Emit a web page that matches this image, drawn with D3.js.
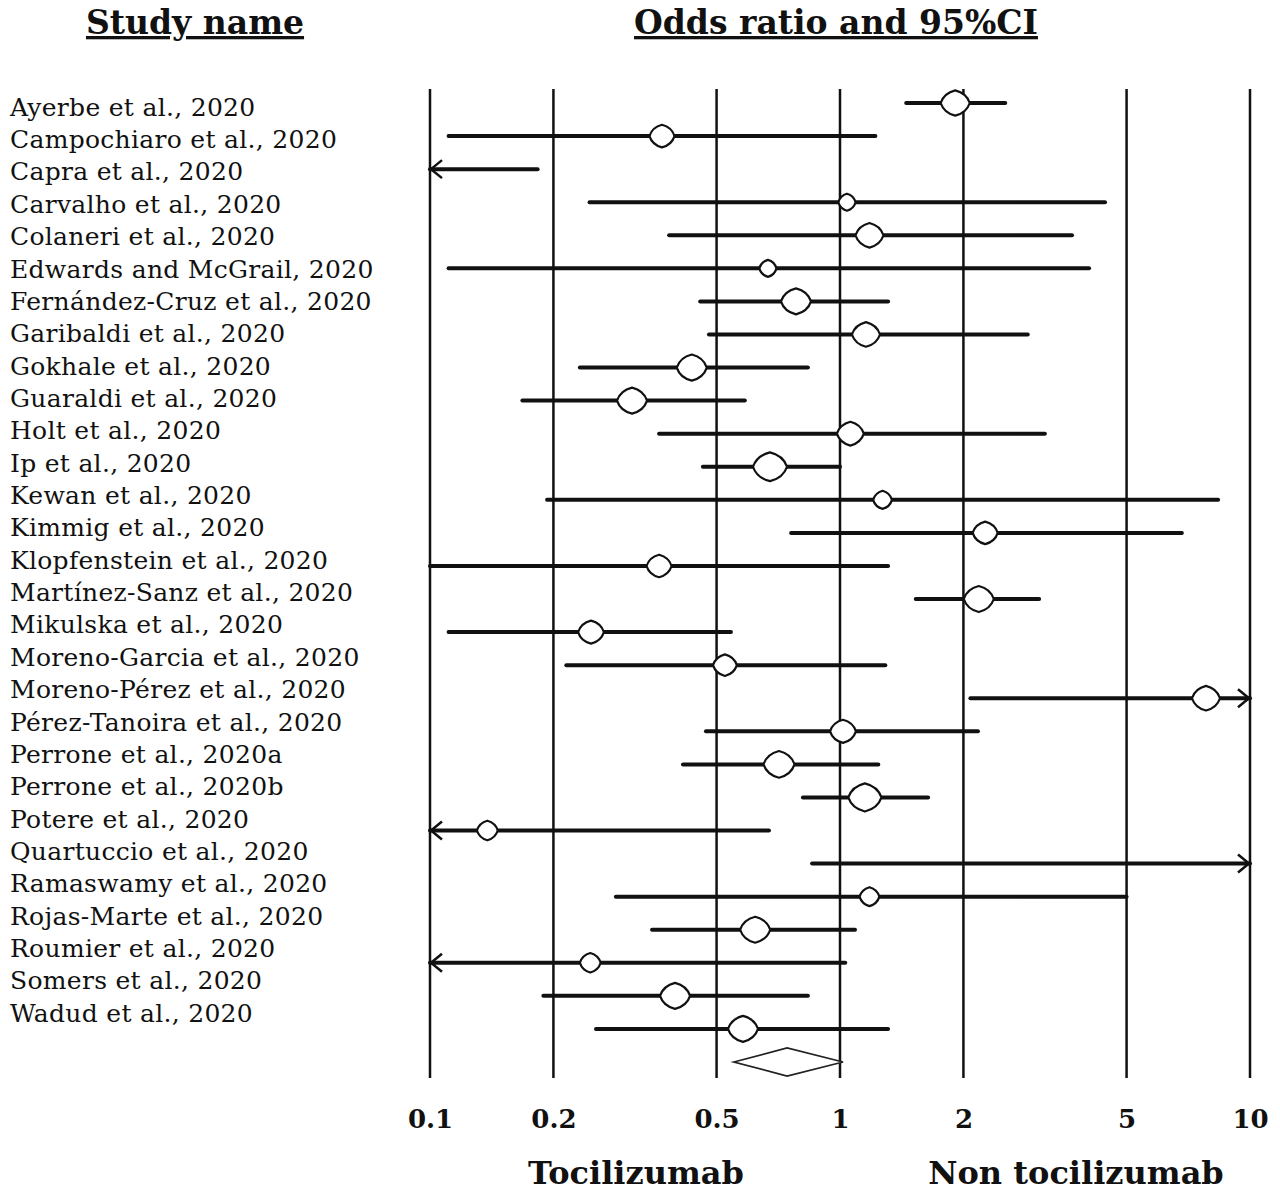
<!DOCTYPE html>
<html>
<head>
<meta charset="utf-8">
<script src="https://cdn.jsdelivr.net/npm/d3@7"></script>
<style>
  body { margin: 0; background: #fff; }
  text { font-family: "DejaVu Serif", "Liberation Serif", serif; fill: #111; }
  .header { font-weight: bold; font-size: 33px; text-decoration: underline; }
  .study { font-size: 25px; letter-spacing: 0.3px; }
  .tick-label { font-weight: bold; font-size: 26px; }
  .side-label { font-weight: bold; font-size: 32px; }
</style>
</head>
<body>
<svg width="1280" height="1191"></svg>
<script>
// study rows (odds ratios on log scale)
var studies = [
  'Ayerbe et al., 2020', 'Campochiaro et al., 2020', 'Capra et al., 2020',
  'Carvalho et al., 2020', 'Colaneri et al., 2020', 'Edwards and McGrail, 2020',
  'Fernández-Cruz et al., 2020', 'Garibaldi et al., 2020', 'Gokhale et al., 2020',
  'Guaraldi et al., 2020', 'Holt et al., 2020', 'Ip et al., 2020',
  'Kewan et al., 2020', 'Kimmig et al., 2020', 'Klopfenstein et al., 2020',
  'Martínez-Sanz et al., 2020', 'Mikulska et al., 2020', 'Moreno-Garcia et al., 2020',
  'Moreno-Pérez et al., 2020', 'Pérez-Tanoira et al., 2020', 'Perrone et al., 2020a',
  'Perrone et al., 2020b', 'Potere et al., 2020', 'Quartuccio et al., 2020',
  'Ramaswamy et al., 2020', 'Rojas-Marte et al., 2020', 'Roumier et al., 2020',
  'Somers et al., 2020', 'Wadud et al., 2020'
];
var oddsRatio = [1.91, 0.368, null, 1.04, 1.18, 0.667, 0.781, 1.157, 0.435, 0.311,
  1.06, 0.675, 1.27, 2.26, 0.362, 2.18, 0.247, 0.524, 7.81, 1.017,
  0.71, 1.15, 0.138, null, 1.18, 0.621, 0.246, 0.396, 0.58];
var lowerCI = [1.45, 0.111, 0.01, 0.245, 0.383, 0.111, 0.456, 0.479, 0.232, 0.168,
  0.362, 0.463, 0.193, 0.76, 0.1, 1.53, 0.111, 0.215, 2.08, 0.471,
  0.414, 0.812, 0.03, 0.855, 0.284, 0.348, 0.04, 0.189, 0.254];
var upperCI = [2.53, 1.22, 0.183, 4.43, 3.68, 4.05, 1.31, 2.87, 0.835, 0.586,
  3.16, 1.0, 8.36, 6.82, 1.31, 3.06, 0.542, 1.29, 15, 2.17,
  1.24, 1.64, 0.671, 25, 5.0, 1.088, 1.03, 0.835, 1.31];
var weights = [4.3, 3.2, null, 1.5, 4.0, 1.5, 4.6, 4.0, 4.6, 4.6,
  3.7, 5.9, 1.8, 3.2, 3.2, 4.6, 3.4, 2.9, 4.0, 3.4,
  4.9, 5.6, 2.2, null, 2.0, 4.6, 2.2, 4.6, 4.6];
// pooled estimate: [odds ratio, lower, upper]
var pooled = [0.743, 0.551, 1.017];
var xTicks = [0.1, 0.2, 0.5, 1, 2, 5, 10];

var svg = d3.select('svg');

var x = d3.scaleLog().domain([0.1, 10]).range([430, 1250]);
var yRow = d3.scaleLinear().domain([0, studies.length]).range([103, 1062]);
var yLabel = d3.scaleLinear().domain([0, studies.length - 1]).range([107, 1013]);
var markerW = d3.scaleSqrt().domain([0, 1]).range([0, 14]);

var lineTop = 89, lineBottom = 1078;

// headers
svg.append('text').attr('class', 'header')
    .attr('x', 195).attr('y', 34).attr('text-anchor', 'middle')
    .text('Study name');
svg.append('text').attr('class', 'header')
    .attr('x', 836).attr('y', 34).attr('text-anchor', 'middle')
    .text('Odds ratio and 95%CI');

// study names
svg.selectAll('.study')
    .data(studies)
    .enter()
    .append('text')
    .attr('class', 'study')
    .attr('x', 10)
    .attr('y', function(d, i) { return yLabel(i); })
    .attr('dy', '0.35em')
    .text(function(d) { return d; });

// vertical reference lines
svg.selectAll('.vline')
    .data(xTicks)
    .enter()
    .append('line')
    .attr('class', 'vline')
    .attr('x1', function(d) { return x(d); })
    .attr('x2', function(d) { return x(d); })
    .attr('y1', lineTop)
    .attr('y2', lineBottom)
    .style('stroke', '#111')
    .style('stroke-width', 2.5);

// tick labels via axis
var xAxis = d3.axisBottom(x)
    .tickValues(xTicks)
    .tickFormat(function(d) { return String(d); })
    .tickSize(0)
    .tickPadding(0);

var axisG = svg.append('g')
    .attr('transform', 'translate(0,1110)')
    .call(xAxis);
axisG.select('.domain').remove();
axisG.selectAll('text')
    .attr('class', 'tick-label')
    .attr('font-family', null)
    .attr('font-size', null)
    .attr('fill', '#111');

// side labels
svg.append('text').attr('class', 'side-label')
    .attr('x', 636).attr('y', 1184).attr('text-anchor', 'middle')
    .text('Tocilizumab');
svg.append('text').attr('class', 'side-label')
    .attr('x', 1076).attr('y', 1184).attr('text-anchor', 'middle')
    .text('Non tocilizumab');

// confidence interval lines
var rows = studies.map(function(name, i) {
    return {name: name, i: i, or: oddsRatio[i], lo: lowerCI[i], hi: upperCI[i], w: weights[i]};
});

var xMin = x.domain()[0], xMax = x.domain()[1];

var rowG = svg.selectAll('.row')
    .data(rows)
    .enter()
    .append('g')
    .attr('class', 'row')
    .attr('transform', function(d) { return 'translate(0,' + yRow(d.i) + ')'; });

rowG.append('line')
    .attr('x1', function(d) { return x(Math.max(d.lo, xMin)); })
    .attr('x2', function(d) { return x(Math.min(d.hi, xMax)); })
    .attr('y1', 0).attr('y2', 0)
    .style('stroke', '#111')
    .style('stroke-width', 4)
    .style('stroke-linecap', 'round');

// arrows for intervals running off the scale
rowG.filter(function(d) { return d.lo < xMin; })
    .append('path')
    .attr('d', function() {
        var ax = x(xMin);
        return 'M' + (ax + 12) + ',-9 L' + (ax + 1) + ',0 L' + (ax + 12) + ',9';
    })
    .style('fill', 'none').style('stroke', '#111').style('stroke-width', 2.5);

rowG.filter(function(d) { return d.hi > xMax; })
    .append('path')
    .attr('d', function() {
        var ax = x(xMax);
        return 'M' + (ax - 12) + ',-9 L' + (ax - 1) + ',0 L' + (ax - 12) + ',9';
    })
    .style('fill', 'none').style('stroke', '#111').style('stroke-width', 2.5);

// point estimate markers (rounded diamonds, size from weight)
function roundDiamond(w, h) {
    var a = w / 2, b = h / 2, k = 0.78;
    return 'M0,' + (-b) +
        ' Q' + (a * k) + ',' + (-b * k) + ' ' + a + ',0' +
        ' Q' + (a * k) + ',' + (b * k) + ' 0,' + b +
        ' Q' + (-a * k) + ',' + (b * k) + ' ' + (-a) + ',0' +
        ' Q' + (-a * k) + ',' + (-b * k) + ' 0,' + (-b) + ' Z';
}

rowG.filter(function(d) { return d.or != null && d.w != null; })
    .append('path')
    .attr('transform', function(d) { return 'translate(' + x(d.or) + ',0)'; })
    .attr('d', function(d) {
        var w = markerW(d.w);
        return roundDiamond(w, 0.7 * w + 5);
    })
    .style('fill', '#fff')
    .style('stroke', '#111')
    .style('stroke-width', 2.2);

// pooled diamond
var yp = yRow(studies.length);
svg.append('path')
    .attr('d', 'M' + x(pooled[1]) + ',' + yp +
        ' L' + x(pooled[0]) + ',' + (yp - 14) +
        ' L' + x(pooled[2]) + ',' + yp +
        ' L' + x(pooled[0]) + ',' + (yp + 14) + ' Z')
    .style('fill', '#fff')
    .style('stroke', '#222')
    .style('stroke-width', 1.8);
</script>
</body>
</html>
